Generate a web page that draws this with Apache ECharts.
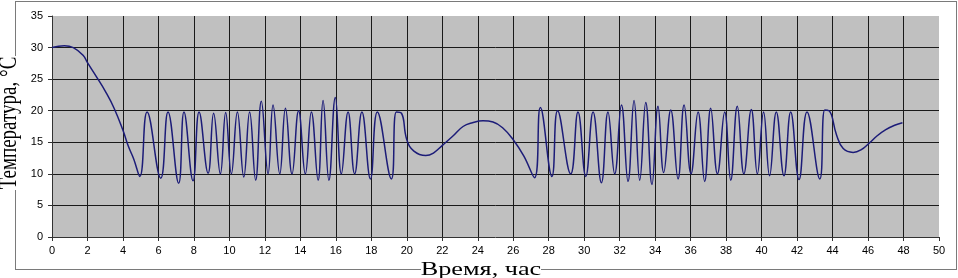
<!DOCTYPE html>
<html>
<head>
<meta charset="utf-8">
<script src="https://cdn.jsdelivr.net/npm/echarts@6/dist/echarts.min.js"></script>
<style>
html,body{margin:0;padding:0;background:#fff;}
#chart{width:958px;height:278px;}
</style>
</head>
<body>
<div id="chart"></div>
<script>
// Time, hours
var hours = [
  0, 0.7, 1.2, 1.75, 2.0, 2.5, 3.0, 3.5, 4.0, 4.3, 4.6, 4.95,
  5.36, 6.13, 6.54, 7.14, 7.44, 7.95, 8.29, 8.8, 9.11, 9.49, 9.79, 10.11,
  10.45, 10.81, 11.14, 11.48, 11.8, 12.18, 12.46, 12.84, 13.16, 13.53, 13.9, 14.28,
  14.62, 15.0, 15.28, 15.61, 15.97, 16.31, 16.69, 17.06, 17.47, 17.95, 18.34, 19.13,
  19.41, 19.7, 20.0, 20.4, 21.07, 21.5, 22.04, 22.6, 23.17, 23.7, 24.3, 24.86,
  25.4, 26.0, 26.6, 27.2, 27.53, 28.18, 28.5, 29.24, 29.65, 30.09, 30.5, 30.97,
  31.34, 31.72, 32.1, 32.47, 32.81, 33.13, 33.47, 33.82, 34.16, 34.48, 34.88, 35.29,
  35.63, 36.02, 36.42, 36.79, 37.13, 37.51, 37.92, 38.26, 38.63, 39.0, 39.42, 39.76,
  40.11, 40.45, 40.83, 41.26, 41.64, 42.11, 42.56, 43.28, 43.56, 43.8, 44.22, 44.6,
  45.16, 45.6, 46.08, 46.5, 47.0, 47.5, 47.94
];
// Temperature, °C
var temps = [
  30.0, 30.3, 30.0, 28.8, 27.6, 25.4, 23.1, 20.4, 16.9, 14.4, 12.4, 9.6,
  19.8, 9.3, 19.8, 8.5, 19.8, 8.9, 19.8, 10.1, 19.6, 10.0, 19.7, 10.0,
  19.8, 9.5, 19.8, 9.0, 21.5, 10.0, 20.9, 10.0, 20.4, 10.0, 20.0, 10.0,
  19.8, 9.0, 21.6, 9.0, 22.1, 10.0, 19.8, 10.0, 19.8, 9.2, 19.8, 9.2,
  19.8, 19.6, 15.4, 13.6, 12.9, 13.3, 14.6, 16.0, 17.5, 18.1, 18.4, 18.2,
  17.3, 15.4, 12.8, 9.4, 20.5, 9.6, 20.0, 10.0, 19.8, 9.6, 19.8, 8.6,
  19.8, 10.0, 20.9, 8.8, 21.6, 9.0, 21.3, 8.3, 20.7, 10.2, 20.1, 9.2,
  20.9, 10.0, 19.8, 8.8, 20.4, 10.0, 19.8, 9.0, 20.7, 10.0, 20.2, 10.0,
  19.8, 9.7, 19.8, 9.7, 19.8, 9.1, 19.8, 9.2, 20.1, 20.0, 16.2, 14.0,
  13.4, 13.8, 14.9, 16.0, 17.0, 17.7, 18.1
];
var xTitle = 'Время, час';
var yTitle = 'Температура, °C';

var seriesData = hours.map(function (h, i) { return [h, temps[i]]; });

var chart = echarts.init(document.getElementById('chart'), null, {renderer: 'canvas'});
var labelStyle = {color: '#000', fontSize: 11, fontFamily: 'Liberation Sans, Arial, sans-serif'};
var gridColor = '#1a1a1a';
var borderColor = '#7a7a7a';

chart.setOption({
  animation: false,
  backgroundColor: '#fff',
  grid: {
    left: 52, right: 19, top: 16, bottom: 41,
    show: true, backgroundColor: '#C0C0C0', borderWidth: 0
  },
  xAxis: {
    type: 'value', min: 0, max: 50, interval: 2,
    axisLine: {show: true, onZero: false, lineStyle: {color: '#333', width: 1}},
    axisTick: {show: true, length: 4, lineStyle: {color: '#333'}},
    axisLabel: Object.assign({margin: 8}, labelStyle),
    splitLine: {show: true, showMinLine: false, showMaxLine: false, lineStyle: {color: gridColor, width: 1}}
  },
  yAxis: {
    type: 'value', min: 0, max: 35, interval: 5,
    axisLine: {show: true, lineStyle: {color: '#333', width: 1}},
    axisTick: {show: true, length: 4, lineStyle: {color: '#333'}},
    axisLabel: Object.assign({margin: 9}, labelStyle),
    splitLine: {show: true, showMinLine: false, showMaxLine: false, lineStyle: {color: gridColor, width: 1}}
  },
  series: [{
    type: 'line',
    data: seriesData,
    showSymbol: false,
    smooth: 0.45,
    lineStyle: {color: '#1c1c78', width: 1.5},
    z: 3
  }],
  graphic: [
    {type: 'line', shape: {x1: 15, y1: 1.5, x2: 957, y2: 1.5}, style: {stroke: borderColor, lineWidth: 1}, silent: true},
    {type: 'line', shape: {x1: 956.5, y1: 1, x2: 956.5, y2: 270}, style: {stroke: borderColor, lineWidth: 1}, silent: true},
    {type: 'line', shape: {x1: 15, y1: 269.5, x2: 421, y2: 269.5}, style: {stroke: borderColor, lineWidth: 1}, silent: true},
    {type: 'line', shape: {x1: 541, y1: 269.5, x2: 957, y2: 269.5}, style: {stroke: borderColor, lineWidth: 1}, silent: true},
    {type: 'line', shape: {x1: 15.5, y1: 1, x2: 15.5, y2: 56}, style: {stroke: borderColor, lineWidth: 1}, silent: true},
    {type: 'line', shape: {x1: 15.5, y1: 190, x2: 15.5, y2: 270}, style: {stroke: borderColor, lineWidth: 1}, silent: true},
    {
      type: 'text', x: 481, y: 270, scaleX: 1.38,
      style: {text: xTitle, fill: '#000', font: '19px "Liberation Serif", "Times New Roman", serif', align: 'center', verticalAlign: 'middle'},
      silent: true
    },
    {
      type: 'text', x: 10, y: 123, rotation: Math.PI / 2, scaleY: 1.3,
      style: {text: yTitle, fill: '#000', font: '19px "Liberation Serif", "Times New Roman", serif', align: 'center', verticalAlign: 'middle'},
      silent: true
    }
  ]
});
</script>
</body>
</html>
